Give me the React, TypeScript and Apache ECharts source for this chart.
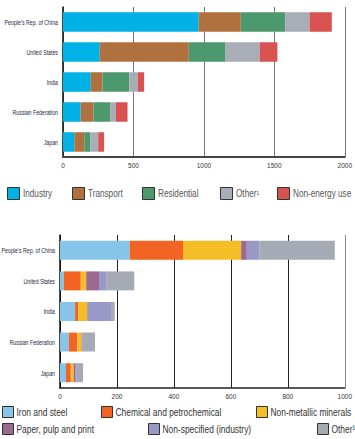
import React, { useEffect, useRef } from "react";
import * as echarts from "echarts";

const countries = ["People's Rep. of China", "United States", "India", "Russian Federation", "Japan"];

// Top chart: final energy by sector
const topSeriesNames = ["Industry", "Transport", "Residential", "Other¹", "Non-energy use"];
const industry = [963, 261, 197, 125, 80];
const transport = [299, 632, 83, 91, 71];
const residential = [315, 261, 190, 118, 44];
const otherTop = [173, 242, 61, 42, 55];
const nonEnergy = [158, 126, 45, 82, 42];
const topColors = ["#00b1e6", "#b0713f", "#4b996c", "#a9adb7", "#d8534f"];
const topTicks = [0, 500, 1000, 1500, 2000];

// Bottom chart: industry by sub-sector
const bottomSeriesNames = [
  "Iron and steel",
  "Chemical and petrochemical",
  "Non-metallic minerals",
  "Paper, pulp and print",
  "Non-specified (industry)",
  "Other¹",
];
const ironSteel = [245, 13, 53, 31, 21];
const chemical = [187, 60, 11, 30, 17];
const nonMetallic = [204, 19, 32, 15, 10];
const paper = [20, 45, 2, 2, 7];
const nonSpecified = [45, 27, 84, 3, 4];
const otherBottom = [264, 97, 10, 42, 22];
const bottomColors = ["#86c5e8", "#f26424", "#f6be26", "#9b6a91", "#9999c7", "#a6aab4"];
const bottomTicks = [0, 200, 400, 600, 800, 1000];

const FONT = "'Liberation Sans', Arial, sans-serif";

export default function App() {
  const ref = useRef<HTMLDivElement>(null);
  useEffect(() => {
    if (!ref.current) return;
    const chart = echarts.init(ref.current, undefined, { renderer: "svg" });
    const topData = [industry, transport, residential, otherTop, nonEnergy];
    const bottomData = [ironSteel, chemical, nonMetallic, paper, nonSpecified, otherBottom];

    const series: any[] = [];
    topSeriesNames.forEach((n, i) => {
      series.push({
        name: n,
        type: "bar",
        stack: "top",
        xAxisIndex: 0,
        yAxisIndex: 0,
        barCategoryGap: "35%",
        data: topData[i],
        itemStyle: { color: topColors[i] },
      });
    });
    bottomSeriesNames.forEach((n, i) => {
      series.push({
        name: n + " ",
        type: "bar",
        stack: "bottom",
        xAxisIndex: 1,
        yAxisIndex: 1,
        barCategoryGap: "38%",
        data: bottomData[i],
        itemStyle: { color: bottomColors[i] },
      });
    });

    const gridTop = { left: 63, right: 8, top: 7, height: 150 };
    const gridBottom = { left: 60, right: 4.5, top: 235, height: 153 };
    const plain = (v: number) => String(v);

    chart.setOption({
      animation: false,
      backgroundColor: "#ffffff",
      grid: [gridTop, gridBottom],
      xAxis: [
        {
          type: "value",
          gridIndex: 0,
          min: topTicks[0],
          max: topTicks[topTicks.length - 1],
          interval: 500,
          axisLine: { show: true, lineStyle: { color: "#444", width: 2 } },
          axisTick: { show: false },
          splitLine: { show: true, lineStyle: { color: "#777", width: 1 } },
          axisLabel: { fontFamily: FONT, fontSize: 6.5, color: "#333", margin: 5, formatter: plain },
        },
        {
          type: "value",
          gridIndex: 1,
          min: bottomTicks[0],
          max: bottomTicks[bottomTicks.length - 1],
          interval: 200,
          axisLine: { show: true, lineStyle: { color: "#222", width: 1.5 } },
          axisTick: { show: false },
          splitLine: {
            show: true,
            lineStyle: { color: ["#222", "#222", "#222", "#222", "#222", "#888"], width: 1 },
          },
          axisLabel: { fontFamily: FONT, fontSize: 6.5, color: "#333", margin: 5, formatter: plain },
        },
      ],
      yAxis: [
        {
          type: "category",
          gridIndex: 0,
          data: countries,
          inverse: true,
          axisLine: { show: true, lineStyle: { color: "#111", width: 1.5 } },
          axisTick: { show: false },
          axisLabel: { show: false },
        },
        {
          type: "category",
          gridIndex: 1,
          data: countries,
          inverse: true,
          axisLine: { show: true, lineStyle: { color: "#111", width: 1.5 } },
          axisTick: { show: false },
          axisLabel: { show: false },
        },
      ],
      series,
    });

    const graphics: any[] = [];
    // category labels: condensed text placed at each category's pixel row
    countries.forEach((c) => {
      const yTop = chart.convertToPixel({ yAxisIndex: 0 } as any, c) as unknown as number;
      const yBot = chart.convertToPixel({ yAxisIndex: 1 } as any, c) as unknown as number;
      [
        [gridTop.left - 5, yTop],
        [gridBottom.left - 5, yBot],
      ].forEach(([x, y]) => {
        graphics.push({
          type: "text",
          x,
          y,
          scaleX: 0.75,
          style: {
            text: c,
            fontFamily: FONT,
            fontSize: 7,
            fill: "#1c2740",
            align: "right",
            verticalAlign: "middle",
          },
        });
      });
    });

    // legends
    const topLegendX = [7, 72, 142, 220, 277];
    topSeriesNames.forEach((n, i) => {
      graphics.push({
        type: "rect",
        shape: { x: topLegendX[i] + 0.5, y: 187.5, width: 12, height: 12 },
        style: { fill: topColors[i], stroke: "#333", lineWidth: 1 },
      });
      graphics.push({
        type: "text",
        x: topLegendX[i] + 16,
        y: 193.5,
        scaleX: 0.82,
        style: {
          text: n,
          fontFamily: FONT,
          fontSize: 10,
          fill: "#555",
          align: "left",
          verticalAlign: "middle",
        },
      });
    });
    const bottomLegendPos = [
      [2, 406],
      [101, 406],
      [256, 406],
      [2, 423],
      [148, 423],
      [317, 423],
    ];
    bottomSeriesNames.forEach((n, i) => {
      const [lx, ly] = bottomLegendPos[i];
      graphics.push({
        type: "rect",
        shape: { x: lx + 0.5, y: ly + 0.5, width: 11, height: 11 },
        style: { fill: bottomColors[i], stroke: "#333", lineWidth: 1 },
      });
      graphics.push({
        type: "text",
        x: lx + 14.5,
        y: ly + 6,
        scaleX: 0.8,
        style: {
          text: n,
          fontFamily: FONT,
          fontSize: 10.5,
          fill: "#333",
          align: "left",
          verticalAlign: "middle",
        },
      });
    });

    chart.setOption({ graphic: graphics });
    return () => chart.dispose();
  }, []);
  return (
    <div
      ref={ref}
      style={{ position: "fixed", left: 0, top: 0, width: 355, height: 439, background: "#fff" }}
    />
  );
}
